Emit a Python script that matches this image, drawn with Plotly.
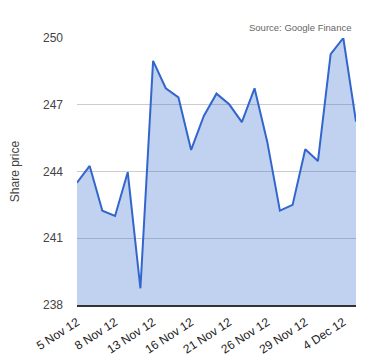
import plotly.graph_objects as go

dates = ["5 Nov", "6 Nov", "7 Nov", "8 Nov", "9 Nov", "12 Nov", "13 Nov", "14 Nov",
         "15 Nov", "16 Nov", "19 Nov", "20 Nov", "21 Nov", "22 Nov", "23 Nov", "26 Nov",
         "27 Nov", "28 Nov", "29 Nov", "30 Nov", "3 Dec", "4 Dec", "5 Dec"]
prices = [243.5, 244.25, 242.24, 242.0, 243.97, 238.75, 248.97, 247.74,
          247.33, 244.97, 246.5, 247.5, 247.02, 246.22, 247.74, 245.34,
          242.24, 242.5, 245.0, 244.47, 249.27, 250.0, 246.24]
tick_dates = ["5 Nov", "8 Nov", "13 Nov", "16 Nov", "21 Nov", "26 Nov", "29 Nov", "4 Dec"]
tick_labels = ["5 Nov 12", "8 Nov 12", "13 Nov 12", "16 Nov 12", "21 Nov 12",
               "26 Nov 12", "29 Nov 12", "4 Dec 12"]
y_ticks = [238, 241, 244, 247, 250]

fig = go.Figure(go.Scatter(
    x=dates, y=prices, mode="lines", fill="tozeroy",
    line=dict(color="#3366cc", width=2),
    fillcolor="rgba(51,102,204,0.3)",
))

fig.update_layout(
    width=372, height=352,
    margin=dict(l=69, r=24, t=30, b=55),
    plot_bgcolor="white", paper_bgcolor="white",
    font=dict(family="Liberation Sans, Arial, sans-serif", color="#444"),
    showlegend=False,
    annotations=[dict(text="Source: Google Finance", xref="paper", yref="paper",
                      x=0.99, y=1.012, xanchor="right", yanchor="bottom", showarrow=False,
                      font=dict(size=9.5, color="#666", family="Liberation Sans, Arial"))],
)
fig.update_xaxes(
    type="category", range=[0, len(dates) - 1], automargin=False,
    tickmode="array", tickvals=tick_dates, ticktext=tick_labels,
    tickangle=-33, tickfont=dict(size=12, color="#222"),
    showgrid=False, showline=True, linecolor="#333", linewidth=1.5,
    ticks="", ticklabelstandoff=4,
)
fig.update_yaxes(
    range=[238, 250], tickvals=y_ticks, tickfont=dict(size=12, color="#444"),
    showgrid=True, gridcolor="#cccccc", gridwidth=1, zeroline=False, automargin=False,
    title=dict(text="Share price", font=dict(size=12, color="#444"), standoff=30),
    ticks="", ticklabelstandoff=13,
)

fig.write_html("out.html")
